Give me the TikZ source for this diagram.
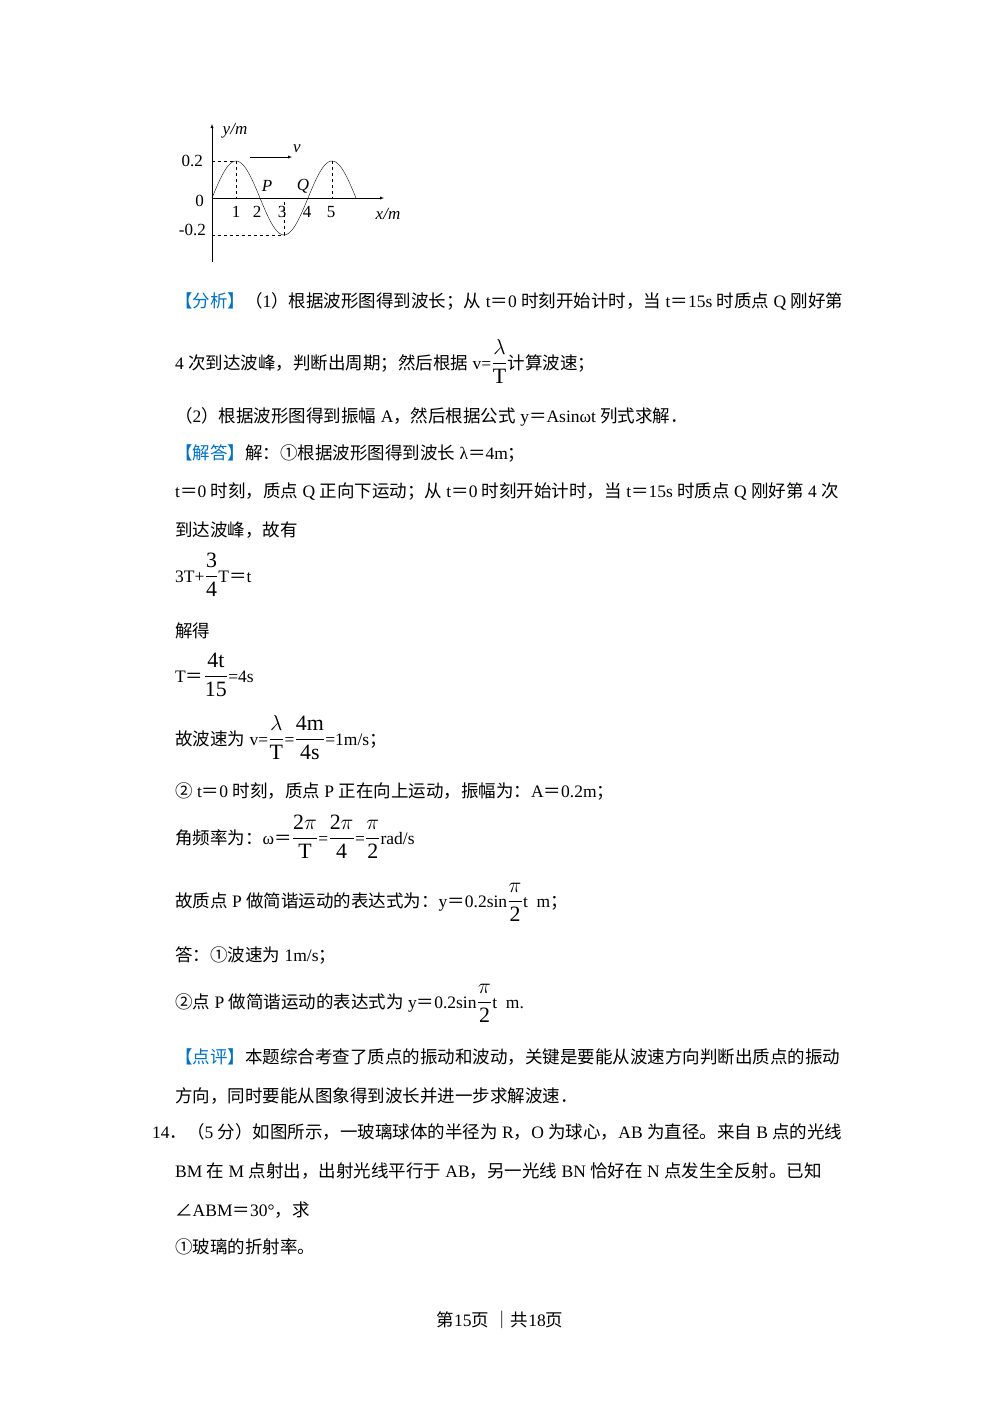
\documentclass[tikz,border=0pt]{standalone}
\usepackage{amsmath}
\usepackage{graphicx}
\usepackage{fontspec}
\setmainfont{Liberation Serif}
\newfontfamily\cj{Noto Sans CJK SC}
\XeTeXinterchartokenstate=1
\newXeTeXintercharclass\cjkcls
\newcount\cc
\cc="3000 \loop\XeTeXcharclass\cc=\cjkcls \advance\cc 1 \ifnum\cc<"A000 \repeat
\cc="FF00 \loop\XeTeXcharclass\cc=\cjkcls \advance\cc 1 \ifnum\cc<"FFF0 \repeat
\cc="2460 \loop\XeTeXcharclass\cc=\cjkcls \advance\cc 1 \ifnum\cc<"2474 \repeat
\XeTeXcharclass"2220=\cjkcls
\XeTeXinterchartoks 0 \cjkcls = {\begingroup\cj}
\XeTeXinterchartoks 4095 \cjkcls = {\begingroup\cj}
\XeTeXinterchartoks \cjkcls 0 = {\endgroup}
\XeTeXinterchartoks \cjkcls 4095 = {\endgroup}
\definecolor{hb}{RGB}{0,112,192}
\newcommand{\fr}[2]{\scalebox{1.25}{$\dfrac{\mathrm{#1}}{\mathrm{#2}}$}}
\tikzset{ln/.style={anchor=base west,inner sep=0pt,font=\fontsize{17.5}{21}\selectfont},
 gl/.style={inner sep=0pt,font=\fontsize{17}{20}\selectfont}}
\begin{document}
\begin{tikzpicture}[x=1pt,y=-1pt]
\useasboundingbox (0,0) rectangle (1000,1414);
% graph
\draw[-latex] (212,262) -- (212,124);
\draw[-latex] (212,198) -- (384,198);
\draw[thin,domain=0:6,samples=80,smooth] plot ({212+24*\x},{198-37*sin(90*\x)});
\draw[dashed] (212,161) -- (236,161) -- (236,198);
\draw[dashed] (212,235) -- (284,235) -- (284,198);
\draw[dashed] (332,161) -- (332,198);
\draw[-latex] (250,157) -- (292,157);
\node[gl] (yl) at (235,131) {\textit{y/m}};
\node[gl] (vl) at (297,149) {\textit{v}};
\node[gl,anchor=east] (a1) at (203,161) {0.2};
\node[gl,anchor=east] (a0) at (204,201) {0};
\node[gl,anchor=east] (a2) at (206,230) {-0.2};
\foreach \i/\xx in {1/236,2/257,3/282,4/307,5/331} \node[gl] (t\i) at (\xx,212) {\i};
\node[gl] (xl) at (388,214) {\textit{x/m}};
\node[gl] (P) at (267,186) {\textit{P}};
\node[gl] (Q) at (303,186) {\textit{Q}};
% text
\node[ln] (l1) at (175,307) {\textcolor{hb}{【分析】}（1）根据波形图得到波长；从 t＝0 时刻开始计时，当 t＝15s 时质点 Q 刚好第};
\node[ln] (l2) at (175,369) {4 次到达波峰，判断出周期；然后根据 v=\fr{\lambda}{T}计算波速；};
\node[ln] (l3) at (175,422) {（2）根据波形图得到振幅 A，然后根据公式 y＝Asinωt 列式求解．};
\node[ln] (l4) at (175,459) {\textcolor{hb}{【解答】}解：①根据波形图得到波长 λ＝4m；};
\node[ln] (l5) at (175,497) {t＝0 时刻，质点 Q 正向下运动；从 t＝0 时刻开始计时，当 t＝15s 时质点 Q 刚好第 4 次};
\node[ln] (l6) at (175,536) {到达波峰，故有};
\node[ln] (l7) at (175,582) {3T+\fr{3}{4}T＝t};
\node[ln] (l8) at (175,637) {解得};
\node[ln] (l9) at (175,682) {T＝\fr{4t}{15}=4s};
\node[ln] (l10) at (175,745) {故波速为 v=\fr{\lambda}{T}=\fr{4m}{4s}=1m/s；};
\node[ln] (l11) at (175,797) {② t＝0 时刻，质点 P 正在向上运动，振幅为：A＝0.2m；};
\node[ln] (l12) at (175,844) {角频率为：ω＝\fr{2\pi}{T}=\fr{2\pi}{4}=\fr{\pi}{2}rad/s};
\node[ln] (l13) at (175,907) {故质点 P 做简谐运动的表达式为：y＝0.2sin\fr{\pi}{2}t\ \ m；};
\node[ln] (l14) at (175,961) {答：①波速为 1m/s；};
\node[ln] (l15) at (175,1008) {②点 P 做简谐运动的表达式为 y＝0.2sin\fr{\pi}{2}t\ \ m.};
\node[ln] (l16) at (175,1063) {\textcolor{hb}{【点评】}本题综合考查了质点的振动和波动，关键是要能从波速方向判断出质点的振动};
\node[ln] (l17) at (175,1102) {方向，同时要能从图象得到波长并进一步求解波速．};
\node[ln] (l18) at (152,1138) {14．（5 分）如图所示，一玻璃球体的半径为 R，O 为球心，AB 为直径。来自 B 点的光线};
\node[ln] (l19) at (175,1177) {BM 在 M 点射出，出射光线平行于 AB，另一光线 BN 恰好在 N 点发生全反射。已知};
\node[ln] (l20) at (175,1216) {∠ABM＝30°，求};
\node[ln] (l21) at (175,1253) {①玻璃的折射率。};
\node[ln,anchor=base] (pg) at (500,1326) {第15页 ｜共18页};
\end{tikzpicture}
\end{document}
